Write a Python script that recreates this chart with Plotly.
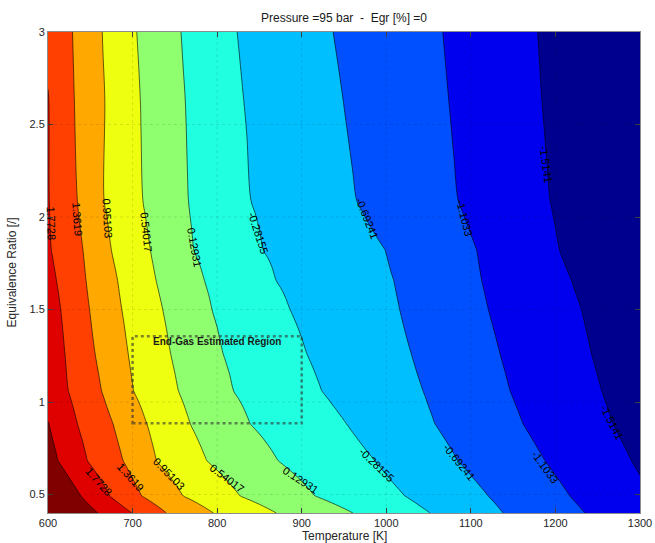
import numpy as np
import plotly.graph_objects as go

# ---------------- data ----------------
title_text = "Pressure =95 bar  -  Egr [%] =0"
x_title = "Temperature [K]"
y_title = "Equivalence Ratio [/]"

# contour levels (high -> low)
levels = [2.1837, 1.7728, 1.3619, 0.95103, 0.54017, 0.12931,
          -0.28155, -0.69241, -1.1033, -1.5141]

# equivalence-ratio rows at which the contour crossings were read
phi_rows = [3.0, 2.63, 2.09, 1.82, 1.657, 1.5, 1.261, 1.061, 0.882, 0.682, 0.492, 0.4]

# temperature [K] where each level crosses the row (None = outside chart)
T_cross = [
    [None, None, 629.0, 664.0, 705.0, 757.0, 823.0, 937.0, 1067.0, 1179.0],
    [None, 601.0, 631.0, 667.0, 709.0, 762.0, 831.0, 949.0, 1074.0, 1184.0],
    [None, 601.5, 634.7, 666.0, 712.0, 765.8, 840.0, 965.0, 1085.0, 1193.6],
    [None, 604.0, 641.5, 675.0, 721.0, 772.0, 854.5, 999.0, 1107.0, 1205.0],
    [None, 610.0, 645.0, 682.0, 727.5, 785.0, 869.6, 1009.0, 1112.8, 1219.0],
    [None, 615.0, 649.0, 687.0, 735.6, 793.5, 886.0, 1016.0, 1120.7, 1230.8],
    [None, 620.0, 655.6, 694.8, 745.0, 806.5, 905.9, 1029.6, 1134.5, 1242.7],
    [None, 624.0, 663.4, 700.9, 754.0, 819.0, 923.6, 1043.5, 1146.3, 1254.7],
    [601.0, 634.7, 677.0, 716.7, 768.0, 838.8, 953.0, 1057.6, 1161.7, 1268.0],
    [612.0, 646.5, 689.0, 728.0, 787.6, 872.0, 986.6, 1085.0, 1187.7, 1290.0],
    [639.0, 673.0, 710.8, 760.0, 827.0, 915.7, 1022.0, 1120.6, 1217.0, None],
    [659.0, 699.0, 740.0, 795.5, 870.0, 960.6, 1051.7, 1138.0, 1235.0, None],
]

x_ticks = [600, 700, 800, 900, 1000, 1100, 1200, 1300]
y_ticks = [0.5, 1, 1.5, 2, 2.5, 3]

# contour labels
label_text = ["1.7728", "1.3619", "0.95103", "0.54017", "0.12931", "-0.28155",
              "-0.69241", "-1.1033", "-1.5141",
              "1.7728", "1.3619", "0.95103", "0.54017", "0.12931", "-0.28155",
              "-0.69241", "-1.1033", "-1.5141"]
label_T = [603.5, 634.3, 669.8, 715.9, 773.8, 848.3, 976.9, 1091.9, 1188.5,
           660.7, 697.8, 743.4, 811.3, 898.8, 989.0, 1086.3, 1188.0, 1266.9]
label_phi = [1.965, 1.987, 1.992, 1.917, 1.835, 1.911, 1.992, 1.998, 2.285,
             0.568, 0.596, 0.611, 0.588, 0.580, 0.660, 0.678, 0.651, 0.894]
label_angle = [88, 86, 87, 84, 80, 72, 68, 76, 82,
               48, 48, 46, 37, 33, 44, 51, 54, 63]

# end-gas region box
region_T = [700, 900]
region_phi = [0.885, 1.355]
region_text = "End-Gas Estimated Region"

# band colours, lowest band first (jet)
band_colors = ["#00008f", "#0000ef", "#0050ff", "#00bfff", "#20ffdf", "#8fff70",
               "#efff10", "#ffa800", "#ff4000", "#df0000", "#800000"]

# ---------------- build field ----------------
T_grid = np.arange(600.0, 1300.01, 5.0)


def row_values(crossings):
    pts = [(t, lv) for t, lv in zip(crossings, levels) if t is not None]
    xs = np.array([p[0] for p in pts], float)
    zs = np.array([p[1] for p in pts], float)
    z = np.interp(T_grid, xs, zs)
    sl = (zs[1] - zs[0]) / (xs[1] - xs[0])
    sr = (zs[-1] - zs[-2]) / (xs[-1] - xs[-2])
    lo = T_grid < xs[0]
    hi = T_grid > xs[-1]
    z[lo] = zs[0] + sl * (T_grid[lo] - xs[0])
    z[hi] = zs[-1] + sr * (T_grid[hi] - xs[-1])
    return z


Z = np.array([row_values(r) for r in T_cross])
order = np.argsort(phi_rows)
phi_sorted = np.array(phi_rows)[order]
Z = Z[order]

lv_sorted = sorted(levels)
n_b = len(band_colors)
colorscale = [[i / (n_b - 1), c] for i, c in enumerate(band_colors)]

fig = go.Figure()
fig.add_trace(go.Contour(
    x=T_grid, y=phi_sorted, z=Z,
    autocontour=False,
    contours=dict(start=lv_sorted[0], end=lv_sorted[-1] + 1e-4, size=0.41086,
                  coloring="fill", showlines=True),
    line=dict(color="black", width=0.6),
    colorscale=colorscale, showscale=False, hoverinfo="skip",
))

FONT = "Liberation Sans, Arial, Helvetica, sans-serif"

shapes = []
for xv in x_ticks[1:-1]:
    shapes.append(dict(type="line", xref="x", yref="y", x0=xv, x1=xv, y0=0.4, y1=3,
                       line=dict(color="rgba(0,0,0,0.11)", width=1, dash="dot"),
                       layer="above"))
for yv in y_ticks[:-1]:
    shapes.append(dict(type="line", xref="x", yref="y", x0=600, x1=1300, y0=yv, y1=yv,
                       line=dict(color="rgba(0,0,0,0.11)", width=1, dash="dot"),
                       layer="above"))
shapes.append(dict(type="rect", xref="x", yref="y",
                   x0=region_T[0], x1=region_T[1], y0=region_phi[0], y1=region_phi[1],
                   line=dict(color="rgba(50,50,50,0.6)", width=2.5, dash="dot"),
                   fillcolor="rgba(0,0,0,0)", layer="above"))

annotations = []
for t, T, p, a in zip(label_text, label_T, label_phi, label_angle):
    annotations.append(dict(x=T, y=p, xref="x", yref="y", text=t, showarrow=False,
                            textangle=a, font=dict(family=FONT, size=11, color="black")))
annotations.append(dict(x=800, y=1.328, xref="x", yref="y", text="<b>" + region_text + "</b>",
                        showarrow=False, font=dict(family=FONT, size=10, color="#1a1a1a")))
annotations.append(dict(x=0.5, y=-0.048, xref="paper", yref="paper", text=x_title,
                        showarrow=False, yanchor="middle",
                        font=dict(family=FONT, size=12, color="#262626")))
annotations.append(dict(x=-0.061, y=0.5, xref="paper", yref="paper", text=y_title,
                        showarrow=False, textangle=-90, xanchor="center",
                        font=dict(family=FONT, size=12, color="#262626")))

fig.update_layout(
    width=655, height=543, autosize=False,
    margin=dict(l=48, r=15, t=32, b=30),
    paper_bgcolor="white", plot_bgcolor="white",
    title=dict(text=title_text, x=0.5 + (48 - 15) / 2 / 655, xanchor="center",
               y=1 - 18 / 543, yanchor="middle",
               font=dict(family=FONT, size=12, color="#1a1a1a")),
    shapes=shapes, annotations=annotations,
    xaxis=dict(range=[600, 1300], tickvals=x_ticks, ticks="inside", ticklen=5,
               tickcolor="#404040", showline=True, linecolor="#8c8c8c", linewidth=1,
               mirror="ticks", showgrid=False, zeroline=False, automargin=False,
               tickfont=dict(family=FONT, size=11, color="#262626")),
    yaxis=dict(range=[0.4, 3], tickvals=y_ticks, ticks="inside", ticklen=5,
               tickcolor="#404040", showline=True, linecolor="#8c8c8c", linewidth=1,
               mirror="ticks", showgrid=False, zeroline=False, automargin=False,
               tickfont=dict(family=FONT, size=11, color="#262626")),
)

fig.write_html("out.html",
               config={"responsive": False, "displayModeBar": False},
               post_script="document.body.style.margin='0';document.body.style.overflow='hidden';")
